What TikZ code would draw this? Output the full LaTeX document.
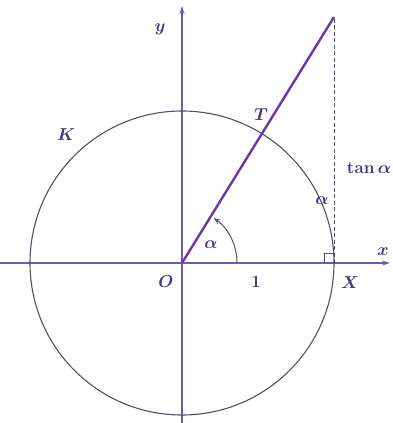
\documentclass[tikz,border=0pt]{standalone}
\usetikzlibrary{arrows.meta}
\definecolor{axiscol}{RGB}{110,90,180}
\definecolor{circcol}{RGB}{80,80,110}
\definecolor{linecol}{RGB}{105,55,170}
\definecolor{labcol}{RGB}{70,50,130}
\tikzset{
  axis/.style={draw=axiscol, line width=1.1pt, -{Stealth[length=8pt,width=5pt]}},
  circ/.style={draw=circcol, line width=1.1pt},
  ray/.style={draw=linecol, line width=2.4pt},
  lab/.style={text=labcol, font=\fontsize{16}{18}\selectfont\boldmath, inner sep=1pt},
  tangline/.style={draw=circcol, line width=1pt, dash pattern=on 4pt off 2.5pt}
}
\begin{document}
\begin{tikzpicture}[x=1pt,y=-1pt]
\useasboundingbox (0,0) rectangle (393,423);
\coordinate (O) at (182,263);
\coordinate (X) at (334,263);
\coordinate (P) at (334,17);
% axes
\coordinate (xl) at (0,263);
\coordinate (xr) at (390,263);
\coordinate (yb) at (182,423);
\coordinate (yt) at (182,6);
\draw[axis] (xl) -- (xr);
\draw[axis] (yb) -- (yt);
% circle
\draw[circ] (O) circle[radius=152];
% dashed tangent
\draw[tangline] (X) -- (P);
% right angle mark
\draw[draw=circcol, line width=0.8pt] (324,263) -- (324,253) -- (334,253);
% ray
\draw[ray] (O) -- (P);
% angle arc
\draw[draw=circcol, line width=1pt, -{Stealth[length=7pt,width=5pt]}] (237,263) arc[start angle=0, end angle=55, x radius=55, y radius=-55];
% labels
\node[lab] (ly) at (160,29) {$y$};
\node[lab] (lx) at (383,252) {$x$};
\node[lab] (lK) at (66,135) {$K$};
\node[lab] (lT) at (261,115) {$T$};
\node[lab] (la1) at (211,245) {$\alpha$};
\node[lab] (la2) at (322,201) {$\alpha$};
\node[lab] (ltan) at (369,168) {$\tan\alpha$};
\node[lab] (lO) at (166,282) {$O$};
\node[lab] (l1) at (256,282) {$1$};
\node[lab] (lX) at (350,283) {$X$};
\end{tikzpicture}
\end{document}
